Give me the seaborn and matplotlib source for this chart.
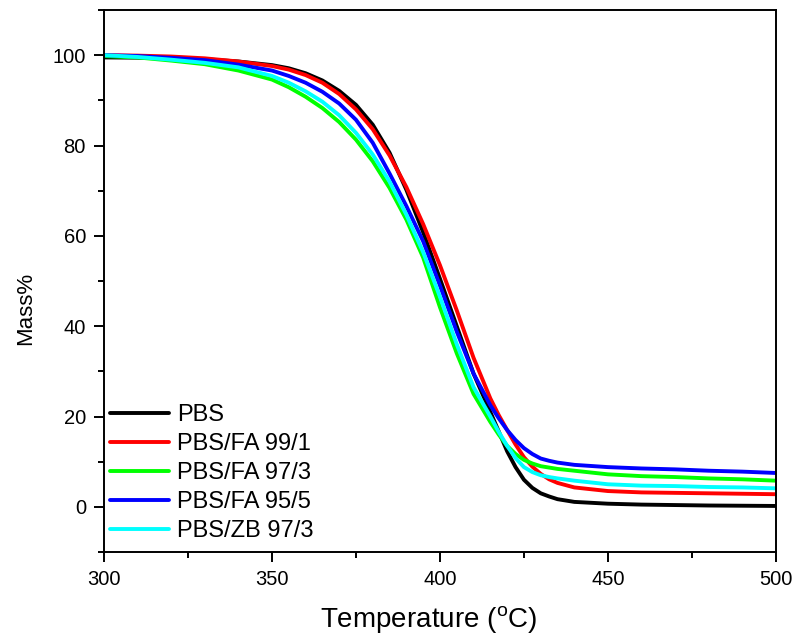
import numpy as np
import pandas as pd
import matplotlib
matplotlib.use("Agg")
import matplotlib.pyplot as plt
import seaborn as sns
from matplotlib.ticker import MultipleLocator

# temperature grid (°C) and mass%
temp = [300, 310, 320, 330, 340, 350, 355, 360, 365, 370, 375, 380, 385, 390, 395,
        400, 405, 410, 415, 417.5, 420, 422.5, 425, 427.5, 430, 432.5, 435, 440,
        450, 460, 470, 480, 490, 500]

pbs = [99.5, 99.45, 99.3, 99.1, 98.6, 97.8, 97.1, 96.0, 94.4, 92.1, 89.0, 84.6, 78.4, 70.2, 60.8,
       50.5, 40.0, 29.5, 21.0, 16.7, 12.3, 8.8, 6.0, 4.2, 3.0, 2.3, 1.7, 1.1,
       0.7, 0.5, 0.4, 0.3, 0.25, 0.2]
fa_99_1 = [100.0, 99.9, 99.7, 99.3, 98.6, 97.6, 96.8, 95.6, 93.9, 91.4, 88.0, 83.6, 77.8, 70.8, 62.6,
           53.5, 43.5, 33.0, 24.0, 20.3, 17.0, 13.8, 11.0, 8.9, 7.3, 6.1, 5.3, 4.3,
           3.5, 3.2, 3.1, 3.0, 2.9, 2.8]
fa_97_3 = [99.8, 99.5, 98.8, 98.0, 96.6, 94.6, 92.9, 90.8, 88.3, 85.2, 81.3, 76.5, 70.6, 63.6, 55.2,
           44.2, 34.0, 25.0, 18.8, 16.0, 13.5, 11.7, 10.4, 9.6, 9.0, 8.7, 8.4, 8.0,
           7.2, 6.8, 6.6, 6.3, 6.1, 5.8]
fa_95_5 = [100.0, 99.8, 99.4, 98.9, 97.9, 96.6, 95.4, 93.9, 91.9, 89.3, 85.7, 80.6, 73.8, 66.6, 58.8,
           49.0, 38.8, 29.5, 22.5, 19.6, 17.0, 14.8, 13.0, 11.7, 10.7, 10.2, 9.8, 9.3,
           8.8, 8.5, 8.3, 8.0, 7.8, 7.5]
zb_97_3 = [100.0, 99.6, 99.0, 98.3, 97.3, 95.4, 93.9, 92.0, 89.7, 86.7, 82.8, 78.0, 72.0, 64.7, 56.4,
           46.5, 36.0, 26.5, 20.0, 16.6, 13.5, 10.8, 8.8, 7.7, 7.0, 6.6, 6.3, 5.8,
           5.0, 4.7, 4.6, 4.4, 4.3, 4.1]

labels = ["PBS", "PBS/FA 99/1", "PBS/FA 97/3", "PBS/FA 95/5", "PBS/ZB 97/3"]
colors = ["#000000", "#ff0000", "#00ff00", "#0000ff", "#00ffff"]
series = [pbs, fa_99_1, fa_97_3, fa_95_5, zb_97_3]

df = pd.concat([pd.DataFrame({"T": temp, "mass": s, "sample": lab})
                for s, lab in zip(series, labels)], ignore_index=True)

sns.set_style("ticks")
plt.rcParams["font.family"] = ["Liberation Sans", "DejaVu Sans"]
plt.rcParams["mathtext.fontset"] = "custom"
plt.rcParams["mathtext.rm"] = "Liberation Sans"
for key in ["text.color", "axes.labelcolor", "xtick.color", "ytick.color", "axes.edgecolor"]:
    plt.rcParams[key] = "black"

fig = plt.figure(figsize=(7.95, 6.41), dpi=100)
ax = fig.add_axes([0.1308, 0.1388, 0.976 - 0.1308, 0.9844 - 0.1388])

sns.lineplot(data=df, x="T", y="mass", hue="sample", hue_order=labels,
             palette=dict(zip(labels, colors)), linewidth=2.8, sort=False, ax=ax)

ax.set_xlim(300, 500)
ax.set_ylim(-10, 110)
ax.xaxis.set_major_locator(MultipleLocator(50))
ax.xaxis.set_minor_locator(MultipleLocator(25))
ax.yaxis.set_minor_locator(MultipleLocator(10))
ax.set_yticks([0, 20, 40, 60, 80, 100])
ax.tick_params(which="major", direction="out", length=7, width=1.4, labelsize=14.5, pad=6)
ax.tick_params(which="minor", direction="out", length=4, width=1.4)
for sp in ax.spines.values():
    sp.set_linewidth(1.4)
    sp.set_visible(True)

ax.set_xlabel("Temperature ($\\mathregular{^{o}}$C)", fontsize=20)
ax.xaxis.set_label_coords(0.483, -0.096)
ax.set_ylabel("Mass%", fontsize=16)
ax.yaxis.set_label_coords(-0.101, 0.45)

handles, _ = ax.get_legend_handles_labels()
ax.legend(handles, labels, loc="lower left", bbox_to_anchor=(0.009, 0.018), frameon=False,
          fontsize=17, handlelength=2.5, handletextpad=0.34, labelspacing=0.3,
          borderaxespad=0, borderpad=0)

plt.savefig("out.png", dpi=100)
plt.close()
